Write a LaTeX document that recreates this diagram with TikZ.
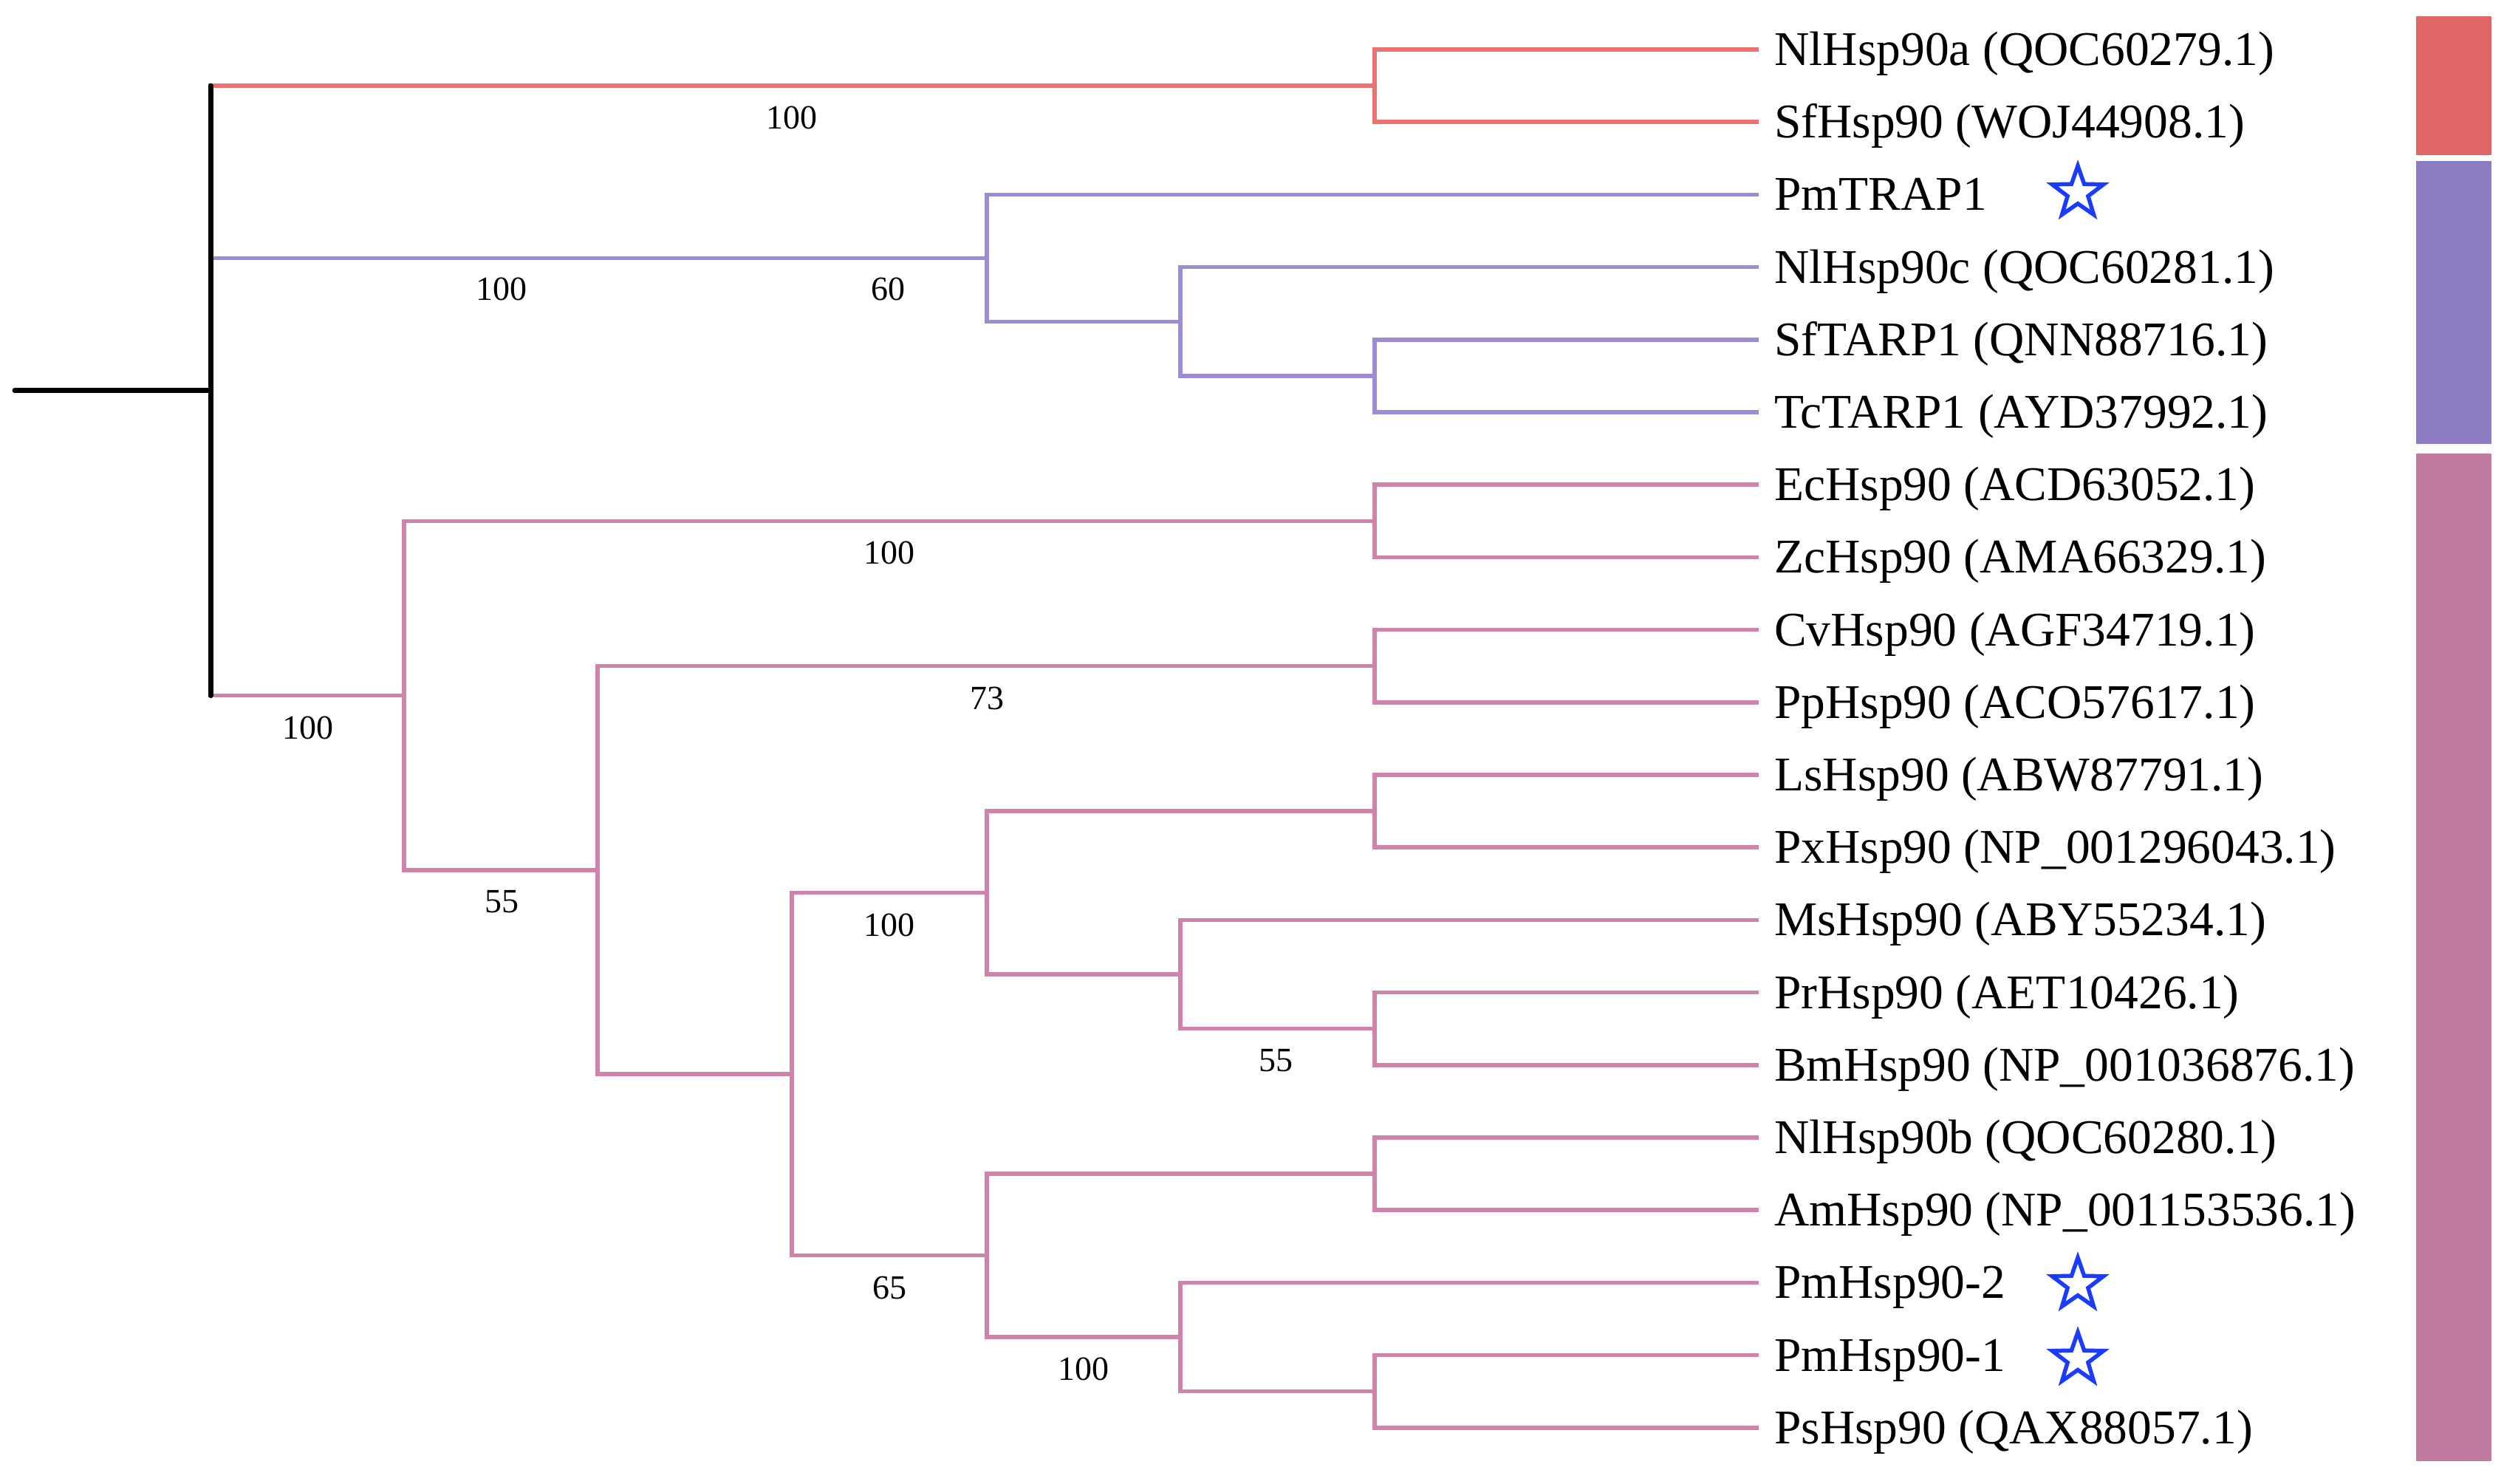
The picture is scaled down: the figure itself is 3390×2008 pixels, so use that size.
\documentclass[tikz,border=0pt]{standalone}
\usepackage{fontspec}
\setmainfont{Liberation Serif}
\usetikzlibrary{shapes.geometric}
\definecolor{redbar}{HTML}{E06666}
\definecolor{purplebar}{HTML}{8E7CC3}
\definecolor{pinkbar}{HTML}{C27BA0}
\definecolor{redline}{HTML}{EC7171}
\definecolor{purpleline}{HTML}{9E8BD6}
\definecolor{pinkline}{HTML}{CF83AB}
\definecolor{starblue}{HTML}{1A3CFF}
\tikzset{
  br/.style={line width=5.5pt, line cap=rect},
  redbr/.style={br, draw=redline},
  purplebr/.style={br, draw=purpleline},
  pinkbr/.style={br, draw=pinkline},
  blk/.style={line width=7pt, draw=black, line cap=round},
  leaf/.style={anchor=base west, inner sep=0pt, font=\fontsize{65.5}{70}\selectfont},
  sup/.style={inner sep=0pt, font=\fontsize{46}{50}\selectfont},
  starmark/.style={star, star points=5, star point ratio=2.5, draw=starblue, line width=5.5pt, minimum size=73pt, inner sep=0pt}
}
\begin{document}
\begin{tikzpicture}[x=1pt,y=-1pt]
\useasboundingbox (0,0) rectangle (3390,2008);
% leaves
\foreach \i/\t in {0/{NlHsp90a (QOC60279.1)},1/{SfHsp90 (WOJ44908.1)},2/{PmTRAP1},3/{NlHsp90c (QOC60281.1)},4/{SfTARP1 (QNN88716.1)},5/{TcTARP1 (AYD37992.1)},6/{EcHsp90 (ACD63052.1)},7/{ZcHsp90 (AMA66329.1)},8/{CvHsp90 (AGF34719.1)},9/{PpHsp90 (ACO57617.1)},10/{LsHsp90 (ABW87791.1)},11/{PxHsp90 (NP\_001296043.1)},12/{MsHsp90 (ABY55234.1)},13/{PrHsp90 (AET10426.1)},14/{BmHsp90 (NP\_001036876.1)},15/{NlHsp90b (QOC60280.1)},16/{AmHsp90 (NP\_001153536.1)},17/{PmHsp90-2},18/{PmHsp90-1},19/{PsHsp90 (QAX88057.1)}}{
  \coordinate (t\i) at (2378, 67+98.2*\i);
  \node[leaf] (l\i) at (2402, 67+98.2*\i+21.5) {\t};
}
% internal nodes
\coordinate (rt) at (20, 528.9);
\coordinate (root) at (285, 528.9);
\coordinate (A) at (1861, 116.1);
\coordinate (P1) at (1336, 349.3);
\coordinate (P2) at (1598, 435.25);
\coordinate (P3) at (1861, 508.9);
\coordinate (H) at (547, 941.6);
\coordinate (B1) at (1861, 705.3);
\coordinate (G) at (809, 1177.9);
\coordinate (C1) at (1861, 901.7);
\coordinate (F) at (1072, 1454.1);
\coordinate (Dn) at (1336, 1208.6);
\coordinate (D1) at (1861, 1098.1);
\coordinate (D2) at (1598, 1319.05);
\coordinate (D3) at (1861, 1392.7);
\coordinate (En) at (1336, 1699.6);
\coordinate (E1) at (1861, 1589.1);
\coordinate (E2) at (1598, 1810.05);
\coordinate (E3) at (1861, 1883.7);
% red clade
\draw[redbr] (root |- A) -- (A);
\draw[redbr] (A) |- (t0);
\draw[redbr] (A) |- (t1);
% purple clade
\draw[purplebr] (root |- P1) -- (P1);
\draw[purplebr] (P1) |- (t2);
\draw[purplebr] (P1) |- (P2);
\draw[purplebr] (P2) |- (t3);
\draw[purplebr] (P2) |- (P3);
\draw[purplebr] (P3) |- (t4);
\draw[purplebr] (P3) |- (t5);
% pink clade
\draw[pinkbr] (root |- H) -- (H);
\draw[pinkbr] (H) |- (B1);
\draw[pinkbr] (H) |- (G);
\draw[pinkbr] (B1) |- (t6);
\draw[pinkbr] (B1) |- (t7);
\draw[pinkbr] (G) |- (C1);
\draw[pinkbr] (G) |- (F);
\draw[pinkbr] (C1) |- (t8);
\draw[pinkbr] (C1) |- (t9);
\draw[pinkbr] (F) |- (Dn);
\draw[pinkbr] (F) |- (En);
\draw[pinkbr] (Dn) |- (D1);
\draw[pinkbr] (Dn) |- (D2);
\draw[pinkbr] (D1) |- (t10);
\draw[pinkbr] (D1) |- (t11);
\draw[pinkbr] (D2) |- (t12);
\draw[pinkbr] (D2) |- (D3);
\draw[pinkbr] (D3) |- (t13);
\draw[pinkbr] (D3) |- (t14);
\draw[pinkbr] (En) |- (E1);
\draw[pinkbr] (En) |- (E2);
\draw[pinkbr] (E1) |- (t15);
\draw[pinkbr] (E1) |- (t16);
\draw[pinkbr] (E2) |- (t17);
\draw[pinkbr] (E2) |- (E3);
\draw[pinkbr] (E3) |- (t18);
\draw[pinkbr] (E3) |- (t19);
% root (black)
\draw[blk] (rt) -- (root);
\draw[blk] (root |- A) -- (root |- H);
% support values
\node[sup] (s1) at (1072,159) {100};
\node[sup] (s2) at (679,391) {100};
\node[sup] (s3) at (1202,391) {60};
\node[sup] (s4) at (417,985) {100};
\node[sup] (s5) at (1204,748) {100};
\node[sup] (s6) at (679,1221) {55};
\node[sup] (s7) at (1336,945) {73};
\node[sup] (s8) at (1204,1252) {100};
\node[sup] (s9) at (1727,1436) {55};
\node[sup] (s10) at (1204,1743) {65};
\node[sup] (s11) at (1467,1853) {100};
% stars
\node[starmark] (st1) at (2813,261) {};
\node[starmark] (st2) at (2813,1739) {};
\node[starmark] (st3) at (2813,1840) {};
% clade bars
\fill[redbar] (3271,22) rectangle (3373,210);
\fill[purplebar] (3271,218) rectangle (3373,601);
\fill[pinkbar] (3271,614) rectangle (3373,1978);
\end{tikzpicture}
\end{document}
